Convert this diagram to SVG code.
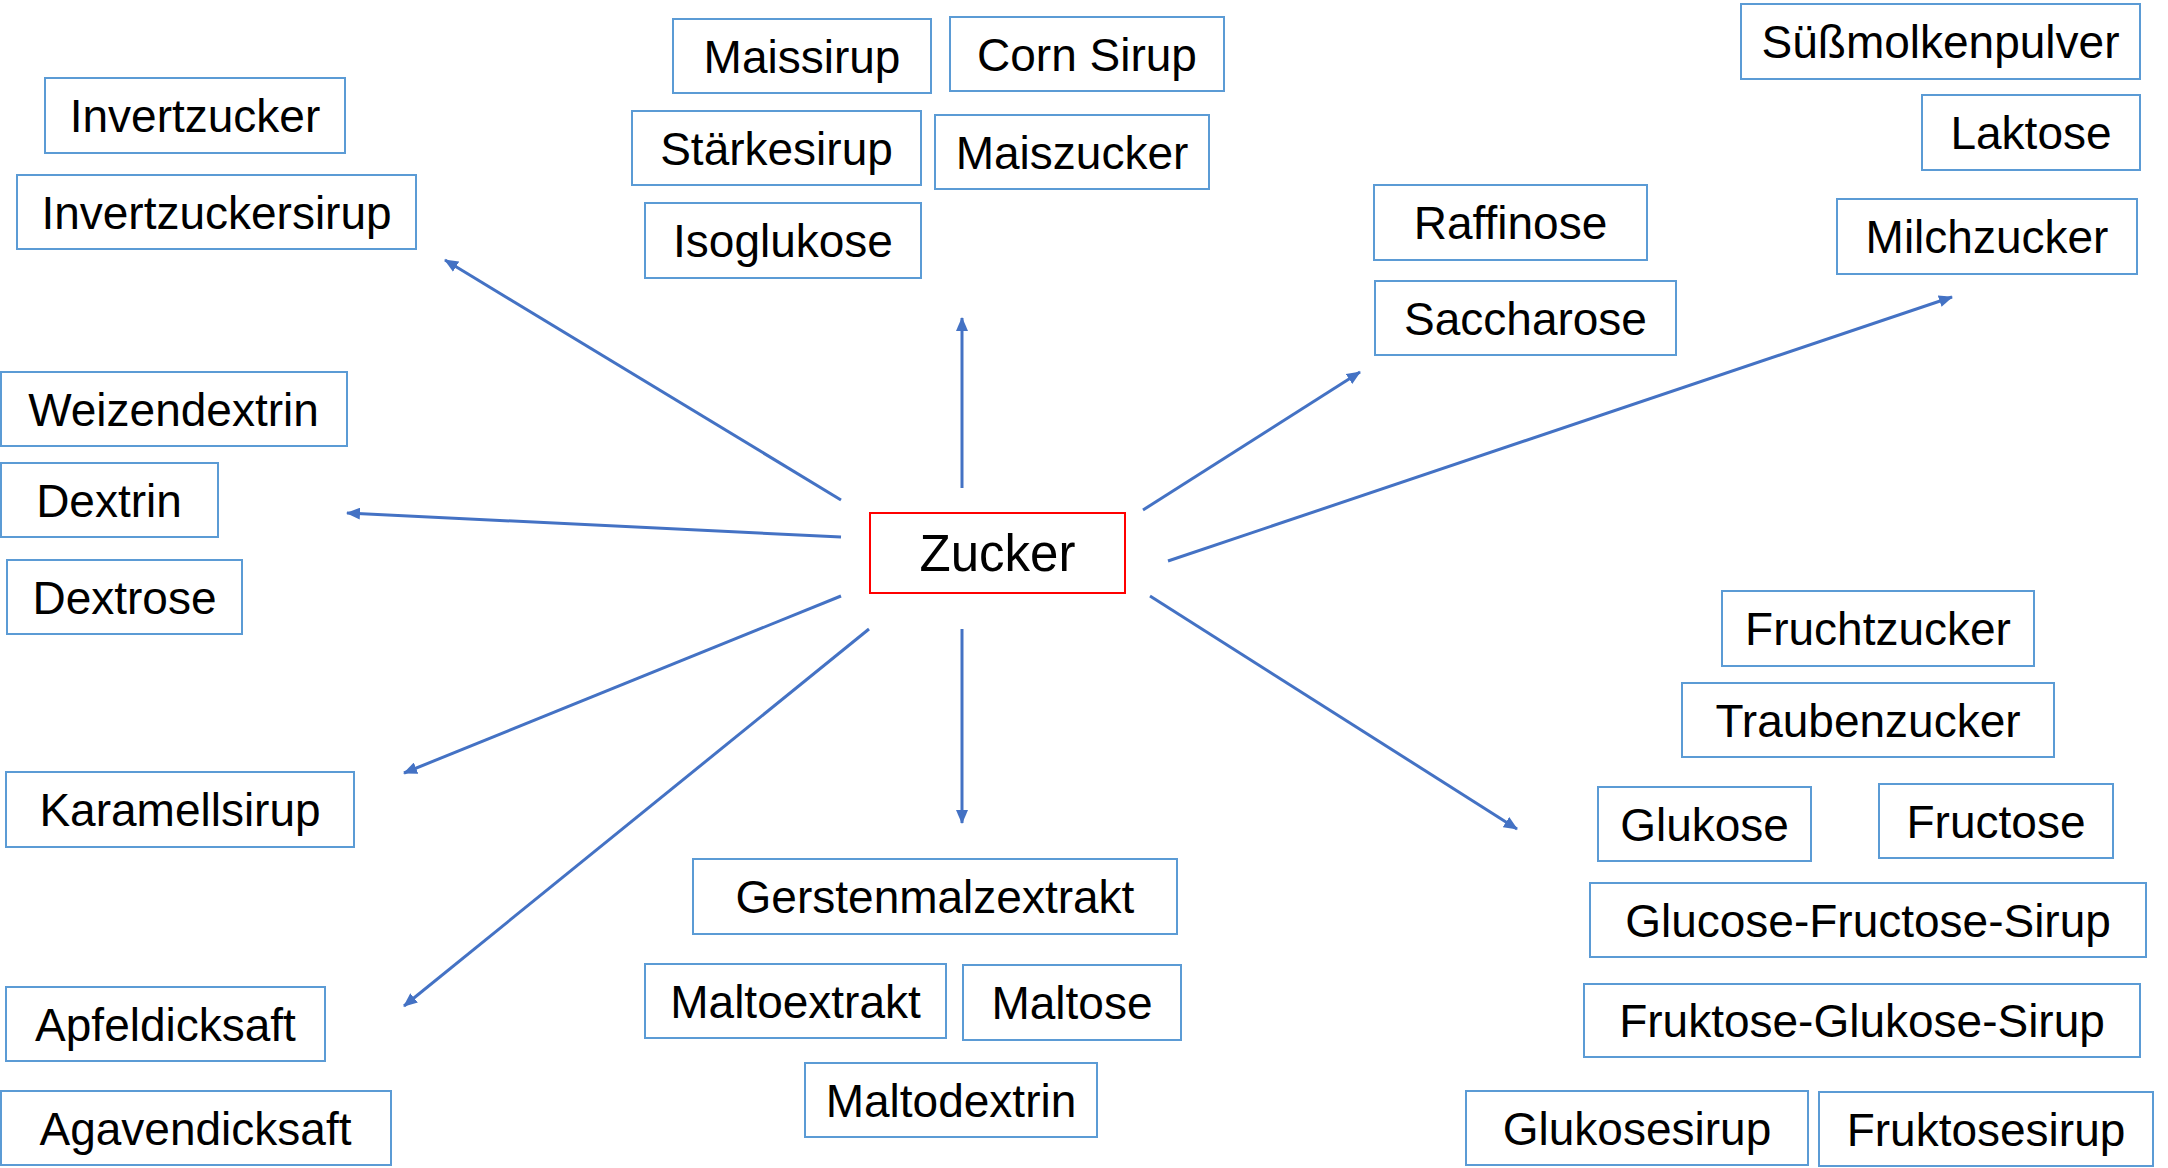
<svg xmlns="http://www.w3.org/2000/svg" width="2168" height="1168" viewBox="0 0 2168 1168">
<style>
.b{fill:#fff;stroke:#5B9BD5;stroke-width:2}
.c{fill:#fff;stroke:#FF0000;stroke-width:2}
text{font-family:"Liberation Sans",Arial,sans-serif;font-size:46px;fill:#000;text-anchor:middle}
.z{font-size:51px}
.e line{stroke:#4472C4;stroke-width:3;marker-end:url(#ah)}
</style>
<defs>
<marker id="ah" viewBox="0 0 14 12" refX="13" refY="6" markerWidth="14" markerHeight="12" markerUnits="userSpaceOnUse" orient="auto">
<path d="M0,0 L14,6 L0,12 z" fill="#4472C4"/>
</marker>
</defs>
<rect width="2168" height="1168" fill="#fff"/>
<g id="edges" class="e">
<line x1="841" y1="500" x2="445" y2="260"/>
<line x1="841" y1="537" x2="347" y2="513"/>
<line x1="841" y1="596" x2="404" y2="773"/>
<line x1="869" y1="629" x2="404" y2="1006"/>
<line x1="962" y1="629" x2="962" y2="823"/>
<line x1="962" y1="488" x2="962" y2="318"/>
<line x1="1143" y1="510" x2="1360" y2="372"/>
<line x1="1168" y1="561" x2="1952" y2="297"/>
<line x1="1150" y1="596" x2="1517" y2="829"/>
</g>
<g id="zucker"><rect class="c" x="870" y="513" width="255" height="80"/><text class="z" x="997.5" y="571">Zucker</text></g>
<g id="invertzucker"><rect class="b" x="45" y="78" width="300" height="75"/><text x="195" y="132">Invertzucker</text></g>
<g id="invertzuckersirup"><rect class="b" x="17" y="175" width="399" height="74"/><text x="216.5" y="228.5">Invertzuckersirup</text></g>
<g id="maissirup"><rect class="b" x="673" y="19" width="258" height="74"/><text x="802" y="72.5">Maissirup</text></g>
<g id="cornsirup"><rect class="b" x="950" y="17" width="274" height="74"/><text x="1087" y="70.5">Corn Sirup</text></g>
<g id="staerkesirup"><rect class="b" x="632" y="111" width="289" height="74"/><text x="776.5" y="164.5">Stärkesirup</text></g>
<g id="maiszucker"><rect class="b" x="935" y="115" width="274" height="74"/><text x="1072" y="168.5">Maiszucker</text></g>
<g id="isoglukose"><rect class="b" x="645" y="203" width="276" height="75"/><text x="783" y="257">Isoglukose</text></g>
<g id="suessmolkenpulver"><rect class="b" x="1741" y="4" width="399" height="75"/><text x="1940.5" y="58">Süßmolkenpulver</text></g>
<g id="laktose"><rect class="b" x="1922" y="95" width="218" height="75"/><text x="2031" y="149">Laktose</text></g>
<g id="raffinose"><rect class="b" x="1374" y="185" width="273" height="75"/><text x="1510.5" y="239">Raffinose</text></g>
<g id="milchzucker"><rect class="b" x="1837" y="199" width="300" height="75"/><text x="1987" y="253">Milchzucker</text></g>
<g id="saccharose"><rect class="b" x="1375" y="281" width="301" height="74"/><text x="1525.5" y="334.5">Saccharose</text></g>
<g id="weizendextrin"><rect class="b" x="1" y="372" width="346" height="74"/><text x="173.5" y="425.5">Weizendextrin</text></g>
<g id="dextrin"><rect class="b" x="1" y="463" width="217" height="74"/><text x="109" y="516.5">Dextrin</text></g>
<g id="dextrose"><rect class="b" x="7" y="560" width="235" height="74"/><text x="124.5" y="613.5">Dextrose</text></g>
<g id="karamellsirup"><rect class="b" x="6" y="772" width="348" height="75"/><text x="180" y="826">Karamellsirup</text></g>
<g id="apfeldicksaft"><rect class="b" x="6" y="987" width="319" height="74"/><text x="165.5" y="1040.5">Apfeldicksaft</text></g>
<g id="agavendicksaft"><rect class="b" x="1" y="1091" width="390" height="74"/><text x="195.5" y="1144.5">Agavendicksaft</text></g>
<g id="gerstenmalzextrakt"><rect class="b" x="693" y="859" width="484" height="75"/><text x="935" y="913">Gerstenmalzextrakt</text></g>
<g id="maltoextrakt"><rect class="b" x="645" y="964" width="301" height="74"/><text x="795.5" y="1017.5">Maltoextrakt</text></g>
<g id="maltose"><rect class="b" x="963" y="965" width="218" height="75"/><text x="1072" y="1019">Maltose</text></g>
<g id="maltodextrin"><rect class="b" x="805" y="1063" width="292" height="74"/><text x="951" y="1116.5">Maltodextrin</text></g>
<g id="fruchtzucker"><rect class="b" x="1722" y="591" width="312" height="75"/><text x="1878" y="645">Fruchtzucker</text></g>
<g id="traubenzucker"><rect class="b" x="1682" y="683" width="372" height="74"/><text x="1868" y="736.5">Traubenzucker</text></g>
<g id="glukose"><rect class="b" x="1598" y="787" width="213" height="74"/><text x="1704.5" y="840.5">Glukose</text></g>
<g id="fructose"><rect class="b" x="1879" y="784" width="234" height="74"/><text x="1996" y="837.5">Fructose</text></g>
<g id="glucose-fructose-sirup"><rect class="b" x="1590" y="883" width="556" height="74"/><text x="1868" y="936.5">Glucose-Fructose-Sirup</text></g>
<g id="fruktose-glukose-sirup"><rect class="b" x="1584" y="984" width="556" height="73"/><text x="1862" y="1037">Fruktose-Glukose-Sirup</text></g>
<g id="glukosesirup"><rect class="b" x="1466" y="1091" width="342" height="74"/><text x="1637" y="1144.5">Glukosesirup</text></g>
<g id="fruktosesirup"><rect class="b" x="1819" y="1092" width="334" height="74"/><text x="1986" y="1145.5">Fruktosesirup</text></g>
</svg>
